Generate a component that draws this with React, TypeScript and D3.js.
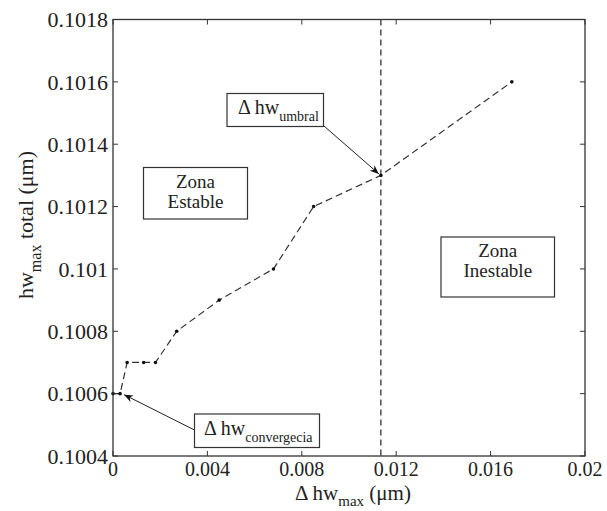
import React from "react";
import * as d3 from "d3";

// data
const deltaHw = [0, 0.0003, 0.0006, 0.0013, 0.0018, 0.0027, 0.0045, 0.0068, 0.0085, 0.01135, 0.0169];
const hwTotal = [0.1006, 0.1006, 0.1007, 0.1007, 0.1007, 0.1008, 0.1009, 0.101, 0.1012, 0.1013, 0.1016];
const xTicks = [0, 0.004, 0.008, 0.012, 0.016, 0.02];
const xTickLabels = ["0", "0.004", "0.008", "0.012", "0.016", "0.02"];
const yTicks = [0.1004, 0.1006, 0.1008, 0.101, 0.1012, 0.1014, 0.1016, 0.1018];
const yTickLabels = ["0.1004", "0.1006", "0.1008", "0.101", "0.1012", "0.1014", "0.1016", "0.1018"];
const umbral = 0.01135;

const W = 607;
const H = 511;
const margin = { top: 19.5, right: 22, bottom: 55, left: 113 };
const FONT = "'Liberation Serif', 'Times New Roman', serif";

export default function App() {
  const x = d3.scaleLinear().domain([0, 0.02]).range([margin.left, W - margin.right]);
  const y = d3.scaleLinear().domain([0.1004, 0.1018]).range([H - margin.bottom, margin.top]);

  const pts: [number, number][] = deltaHw.map((d, i) => [d, hwTotal[i]]);
  const line = d3
    .line<[number, number]>()
    .x((d) => x(d[0]))
    .y((d) => y(d[1]));

  const x0 = x(0), x1 = x(0.02), y0 = y(0.1004), y1 = y(0.1018);
  const tick = 5;

  // arrow targets: umbral point and convergence point
  const umbralPt = pts[9];
  const convPt = pts[1];

  return (
    <svg
      width={W}
      height={H}
      style={{ position: "fixed", left: 0, top: 0, background: "#fff", display: "block" }}
      fontFamily={FONT}
    >
      <defs>
        <marker id="arrow" viewBox="0 0 10 10" refX="10" refY="5" markerWidth="9" markerHeight="9" orient="auto-start-reverse" markerUnits="userSpaceOnUse">
          <path d="M0,1 L10,5 L0,9 L3,5 Z" fill="#111" />
        </marker>
      </defs>
      <rect x={0} y={0} width={W} height={H} fill="#fff" />

      {/* ticks on all four sides */}
      {xTicks.map((t) => (
        <g key={"xt" + t} stroke="#333" strokeWidth={1}>
          <line x1={x(t)} x2={x(t)} y1={y0} y2={y0 - tick} />
          <line x1={x(t)} x2={x(t)} y1={y1} y2={y1 + tick} />
        </g>
      ))}
      {yTicks.map((t) => (
        <g key={"yt" + t} stroke="#333" strokeWidth={1}>
          <line x1={x0} x2={x0 + tick} y1={y(t)} y2={y(t)} />
          <line x1={x1} x2={x1 - tick} y1={y(t)} y2={y(t)} />
        </g>
      ))}

      {/* tick labels */}
      {xTicks.map((t, i) => (
        <text key={"xl" + t} x={x(t)} y={y0 + 20} textAnchor="middle" fontSize={20} fill="#222">
          {xTickLabels[i]}
        </text>
      ))}
      {yTicks.map((t, i) => (
        <text key={"yl" + t} x={x0 - 5} y={y(t)} dy="0.35em" textAnchor="end" fontSize={22} fill="#222">
          {yTickLabels[i]}
        </text>
      ))}

      {/* threshold line */}
      <line x1={x(umbral)} x2={x(umbral)} y1={y1} y2={y0} stroke="#333" strokeWidth={1.3} strokeDasharray="6,4" />

      {/* data curve */}
      <path d={line(pts) || ""} fill="none" stroke="#333" strokeWidth={1.2} strokeDasharray="7,4" />
      {pts.map((d, i) => (
        <circle key={"p" + i} cx={x(d[0])} cy={y(d[1])} r={1.8} fill="#111" />
      ))}

      {/* axes box */}
      <rect x={x0} y={y1} width={x1 - x0} height={y0 - y1} fill="none" stroke="#333" strokeWidth={1.3} />

      {/* zone labels */}
      <rect x={143.5} y={167.5} width={104} height={51.5} fill="#fff" stroke="#333" strokeWidth={1.2} />
      <text x={195.5} y={188} textAnchor="middle" fontSize={19} fill="#222">Zona</text>
      <text x={195.5} y={208} textAnchor="middle" fontSize={19} fill="#222">Estable</text>

      <rect x={441} y={237} width={113.5} height={60} fill="#fff" stroke="#333" strokeWidth={1.2} />
      <text x={497.8} y={257} textAnchor="middle" fontSize={19} fill="#222">Zona</text>
      <text x={497.8} y={277} textAnchor="middle" fontSize={19} fill="#222">Inestable</text>

      {/* umbral annotation */}
      <line x1={324} y1={126} x2={x(umbralPt[0]) - 2} y2={y(umbralPt[1]) - 1.5} stroke="#222" strokeWidth={1} markerEnd="url(#arrow)" />
      <rect x={227} y={93.5} width={96.5} height={33} fill="#fff" stroke="#333" strokeWidth={1.2} />
      <text x={238} y={114} fontSize={20} fill="#222">
        Δ hw<tspan fontSize={14} dy={7}>umbral</tspan>
      </text>

      {/* convergence annotation */}
      <line x1={194.5} y1={430} x2={x(convPt[0]) + 4} y2={y(convPt[1]) + 1} stroke="#222" strokeWidth={1} markerEnd="url(#arrow)" />
      <rect x={194.5} y={414} width={125} height={33.5} fill="#fff" stroke="#333" strokeWidth={1.2} />
      <text x={204} y={435} fontSize={20} fill="#222">
        Δ hw<tspan fontSize={14} dy={7}>convergecia</tspan>
      </text>

      {/* axis titles */}
      <text x={295} y={500} fontSize={21} fill="#222">
        Δ hw<tspan fontSize={15} dy={6}>max</tspan>
        <tspan dy={-6}> (μm)</tspan>
      </text>
      <text transform={`translate(33,${225}) rotate(-90)`} textAnchor="middle" fontSize={22} fill="#222">
        hw<tspan fontSize={16} dy={8}>max</tspan>
        <tspan dy={-8}> total (μm)</tspan>
      </text>
    </svg>
  );
}
